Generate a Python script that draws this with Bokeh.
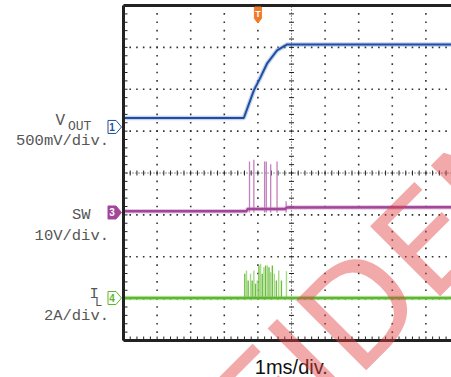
import numpy as np
from bokeh.plotting import figure
from bokeh.models import Range1d
from bokeh.core.properties import value
from bokeh.embed import file_html
from bokeh.resources import INLINE

# ---------------- data (time in ms, 1 ms/div) ----------------
vout_t = [0.0, 3.58, 3.88, 4.08, 4.27, 4.57, 4.82, 4.86, 9.77]
vout_v = [0.107, 0.107, 0.436, 0.595, 0.755, 0.913, 0.973, 0.985, 0.985]   # V

sw_t = [0.0, 3.66, 3.70, 4.82, 4.86, 9.77]
sw_v = [0.3, 0.3, 0.85, 0.85, 1.2, 1.25]                                  # V
sw_spike_t = [3.75, 3.88, 4.20, 4.25, 4.38, 4.57, 4.84]
sw_spike_v = [12.2, 12.6, 12.2, 12.2, 11.5, 12.2, 2.7]

il_t = [0.0, 9.77]
il_a = [0.0, 0.0]                                                          # A
il_spike_t = [3.61, 3.66, 3.71, 3.78, 3.83, 3.88, 3.93, 3.98, 4.03, 4.08, 4.13,
              4.18, 4.23, 4.28, 4.33, 4.38, 4.43, 4.49, 4.55, 4.62, 4.70, 4.85]
il_spike_a = [1.16, 1.31, 0.84, 1.16, 0.84, 1.31, 0.68, 0.84, 1.55, 1.63, 1.16,
              1.47, 1.55, 1.55, 1.47, 1.23, 1.55, 1.16, 0.84, 1.31, 0.84, 1.28]

# channel settings: scale per division and ground offset (divisions)
vout_scale, vout_offset = 0.5, 1.10
sw_scale, sw_offset = 10.0, -0.943
il_scale, il_offset = 2.0, -2.985
trigger_t = 4.0

ch_labels = ["1", "3", "4"]
timebase_label = "1ms/div."
watermark = ("CONFI", "DENTIAL")

BLUE, PURPLE, GREEN, ORANGE = "#1f4f9f", "#a2469a", "#5cb82e", "#f07a2a"
INK = "#222222"

# ---------------- geometry helpers (canvas pixels -> divisions) ----------------
PXX, PXY = 33.6, 41.875
def tx(px): return (px - 123) / PXX
def ty(py): return 4 - (py - 5) / PXY
def dx(n): return n / PXX
def dy(n): return n / PXY

W, H = 451, 377
p = figure(width=W, height=H, output_backend="svg", toolbar_location=None,
           x_axis_type=None, y_axis_type=None, min_border=0,
           x_range=Range1d(tx(0), tx(W)), y_range=Range1d(ty(H), ty(0)))
p.outline_line_color = None
p.grid.visible = False
p.background_fill_color = "white"

T_END = 10.0
# dotted grid
minor_t = np.arange(0, 10.001, 0.2)
minor_y = np.arange(-4, 4.001, 0.2)
gx, gy = [], []
for t in [1, 2, 3, 4, 6, 7, 8, 9]:
    gx += [t] * len(minor_y); gy += list(minor_y)
for y in [-3, -2, -1, 1, 2, 3]:
    gx += list(minor_t); gy += [y] * len(minor_t)
p.scatter(gx, gy, marker="square", size=1.6, color="#333333", line_color=None)

# centre cross with ticks
p.line([5, 5], [-4, 4], line_color="#333333", line_width=1, line_dash="1 2")
p.line([0, T_END], [0, 0], line_color="#333333", line_width=1, line_dash="1 2")
p.segment(x0=[5 - dx(2.5)] * len(minor_y), y0=minor_y, x1=[5 + dx(2.5)] * len(minor_y), y1=minor_y,
          line_color="#222222", line_width=1)
p.segment(x0=minor_t, y0=[-dy(2.5)] * len(minor_t), x1=minor_t, y1=[dy(2.5)] * len(minor_t),
          line_color="#222222", line_width=1)
# border ticks
p.segment(x0=[0] * len(minor_y), y0=minor_y, x1=[dx(4)] * len(minor_y), y1=minor_y,
          line_color="#222222", line_width=1)
p.segment(x0=minor_t, y0=[-4] * len(minor_t), x1=minor_t, y1=[-4 + dy(4)] * len(minor_t),
          line_color="#222222", line_width=1)

# traces
def ydiv(vals, scale, off): return [off + v / scale for v in vals]

p.line(vout_t, ydiv(vout_v, vout_scale, vout_offset), line_color="#7d9ad6", line_width=4.5, line_alpha=0.45)
p.line(vout_t, ydiv(vout_v, vout_scale, vout_offset), line_color=BLUE, line_width=2)

p.segment(x0=sw_spike_t, y0=[sw_offset] * len(sw_spike_t), x1=sw_spike_t,
          y1=ydiv(sw_spike_v, sw_scale, sw_offset), line_color="#c380bd", line_width=1.3)
p.line(sw_t, ydiv(sw_v, sw_scale, sw_offset), line_color="#c98fc4", line_width=4.5, line_alpha=0.5)
p.line(sw_t, ydiv(sw_v, sw_scale, sw_offset), line_color=PURPLE, line_width=2.4)

il_cols = ["#6cbf3c" if i % 2 == 0 else "#a6d98a" for i in range(len(il_spike_t))]
p.segment(x0=il_spike_t, y0=[il_offset] * len(il_spike_t), x1=il_spike_t,
          y1=ydiv(il_spike_a, il_scale, il_offset), line_color=il_cols, line_width=1.4)
p.line(il_t, ydiv(il_a, il_scale, il_offset), line_color="#9ad27a", line_width=4.5, line_alpha=0.5)
p.line(il_t, ydiv(il_a, il_scale, il_offset), line_color=GREEN, line_width=2.4)

# borders
p.line([0, 0], [4, -4], line_color=INK, line_width=3)
p.line([0, T_END], [-4, -4], line_color=INK, line_width=3)
p.line([0, T_END], [4, 4], line_color=INK, line_width=3)

# channel markers
offs = [vout_offset, sw_offset, il_offset]
cols = [BLUE, PURPLE, GREEN]
xs, ys = [], []
for o in offs:
    xs.append([tx(107.5), tx(115.5), tx(121), tx(115.5), tx(107.5)])
    ys.append([o + dy(6.5), o + dy(6.5), o, o - dy(6.5), o - dy(6.5)])
p.patches(xs, ys, fill_color=["white", PURPLE, "white"], line_color=cols, line_width=1)
p.text([tx(111.5)] * 3, offs, text=ch_labels, text_color=[BLUE, "white", GREEN],
       text_font=value("Liberation Sans"), text_font_size="10px", text_font_style="bold",
       text_align="center", text_baseline="middle")

# trigger marker
p.patch([trigger_t - dx(3.5), trigger_t + dx(3.5), trigger_t + dx(3.5), trigger_t, trigger_t - dx(3.5)],
        [ty(6.5), ty(6.5), ty(18), ty(22.5), ty(18)], fill_color=ORANGE, line_color=ORANGE)
p.text([trigger_t], [ty(13)], text=["T"], text_color="white", text_font=value("Liberation Sans"),
       text_font_size="9px", text_font_style="bold", text_align="center", text_baseline="middle")

# channel labels (left)
MONO = value("Liberation Mono")
GRAY = "#555555"
p.text([tx(55)], [ty(120.7)], text=["V"], text_font=MONO, text_font_size="16px",
       text_color=GRAY, text_align="left", text_baseline="alphabetic")
p.text([tx(67.5)], [ty(126)], text=["OUT"], text_font=MONO, text_font_size="13px",
       text_color=GRAY, text_align="left", text_baseline="alphabetic")
p.text([tx(108.5)], [ty(140.7)], text=["500mV/div."], text_font=MONO, text_font_size="15.5px",
       text_color=GRAY, text_align="right", text_baseline="alphabetic")
p.text([tx(71.5)], [ty(214.3)], text=["SW"], text_font=MONO, text_font_size="15.5px",
       text_color=GRAY, text_align="left", text_baseline="alphabetic")
p.text([tx(108.5)], [ty(235)], text=["10V/div."], text_font=MONO, text_font_size="15.5px",
       text_color=GRAY, text_align="right", text_baseline="alphabetic")
p.text([tx(93.7)], [ty(293.3)], text=["I"], text_font=MONO, text_font_size="15.5px",
       text_color=GRAY, text_align="center", text_baseline="alphabetic")
p.text([tx(98)], [ty(302)], text=["L"], text_font=MONO, text_font_size="12px",
       text_color=GRAY, text_align="center", text_baseline="alphabetic")
p.text([tx(108.5)], [ty(315.7)], text=["2A/div."], text_font=MONO, text_font_size="15.5px",
       text_color=GRAY, text_align="right", text_baseline="alphabetic")

# time base label
p.text([tx(290.8)], [ty(366.7)], text=[timebase_label], text_font=value("Liberation Sans"),
       text_font_size="20px", text_color="#111111", text_align="center", text_baseline="alphabetic")

# watermark
ang = np.deg2rad(45)
WX, WY = 323, 346
for txt, al in zip(watermark, ["right", "left"]):
    p.text([tx(WX)], [ty(WY)], text=[txt], text_font=value("DejaVu Sans"), text_font_size="136px",
           text_color="#e04040", text_alpha=0.45, text_align=al, text_baseline="alphabetic", angle=ang)

open("out.html", "w").write(file_html(p, INLINE))
